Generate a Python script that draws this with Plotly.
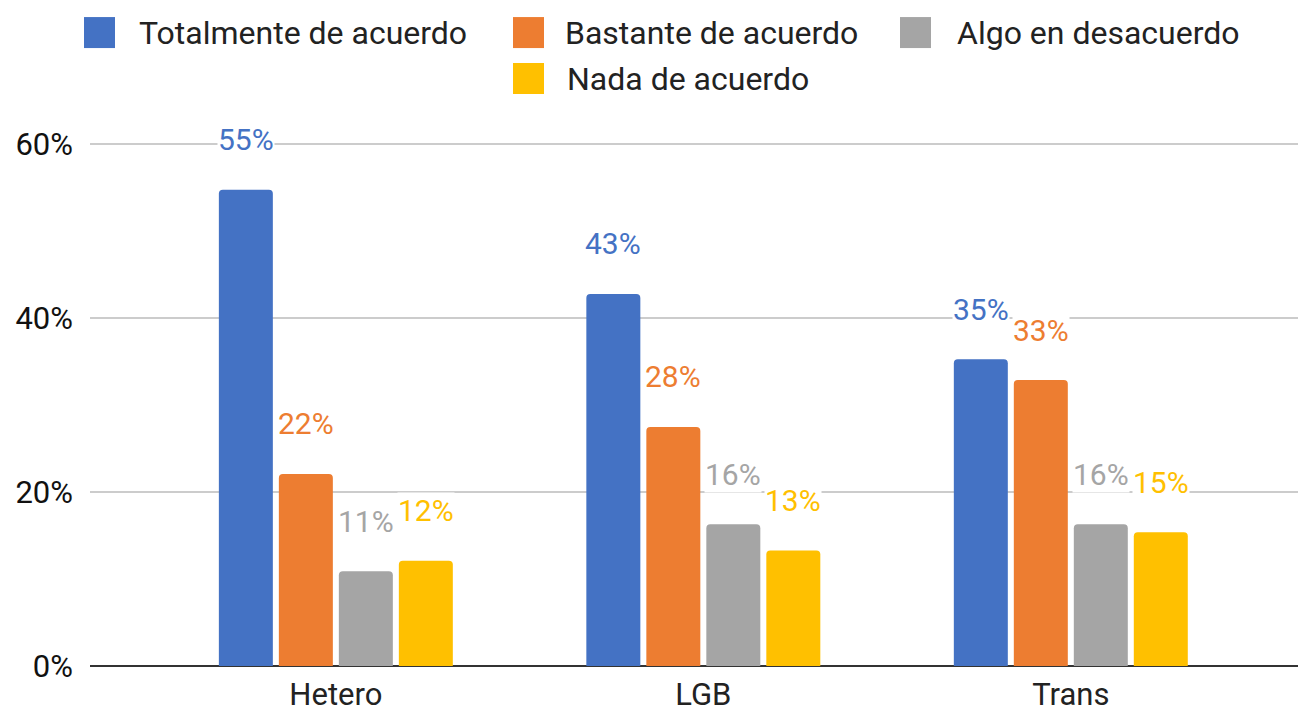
import plotly.graph_objects as go

categories = ["Hetero", "LGB", "Trans"]
series_names = ["Totalmente de acuerdo", "Bastante de acuerdo", "Algo en desacuerdo", "Nada de acuerdo"]
totalmente = [0.548, 0.428, 0.353]
bastante = [0.221, 0.275, 0.329]
algo = [0.109, 0.163, 0.163]
nada = [0.121, 0.133, 0.154]
label_text = [["55%", "43%", "35%"], ["22%", "28%", "33%"], ["11%", "16%", "16%"], ["12%", "13%", "15%"]]
y_ticks = [0, 0.2, 0.4, 0.6]
y_tick_labels = ["0%", "20%", "40%", "60%"]

values = [totalmente, bastante, algo, nada]
colors = ["#4472C4", "#ED7D31", "#A5A5A5", "#FFC000"]

OFF = 8  # page body margin
W, H = 1306 - OFF, 710 - OFF
L, R, T, B = 90 - OFF, 0, 100.5 - OFF, 44
FONT = "Roboto, Arial, sans-serif"

def px(x):
    return (x - OFF - L) / (W - L - R)

def py(y):
    return (H - B - (y - OFF)) / (H - T - B)

fig = go.Figure()
for name, vals, col in zip(series_names, values, colors):
    fig.add_trace(go.Bar(x=categories, y=vals, name=name, marker=dict(color=col, line=dict(width=0)),
                         showlegend=False, hoverinfo="x+y"))

annotations = []
for i, (vals, col, labs) in enumerate(zip(values, colors, label_text)):
    for c, v, t in zip(categories, vals, labs):
        annotations.append(dict(x=c, y=v, text=t, xref="x", yref="y", showarrow=False,
                                xshift=(i - 1.5) * 60, yshift=50, yanchor="middle", xanchor="center",
                                bgcolor="white", borderpad=0,
                                font=dict(family=FONT, size=30, color=col)))

# custom legend
legend_items = [
    (0, 84, 32, 137),
    (1, 513, 32, 563),
    (2, 900, 32, 955),
    (3, 513, 78, 565),
]
shapes = []
for idx, sx, cy, tx in legend_items:
    shapes.append(dict(type="rect", xref="paper", yref="paper", xsizemode="pixel", ysizemode="pixel",
                       xanchor=px(sx), yanchor=py(cy), x0=0, x1=31, y0=-15.5, y1=15.5,
                       fillcolor=colors[idx], line=dict(width=0)))
    annotations.append(dict(x=px(tx), y=py(cy), xref="paper", yref="paper", text=series_names[idx],
                            showarrow=False, xanchor="left", yanchor="middle",
                            font=dict(family=FONT, size=32, color="#222222")))

fig.update_layout(
    width=W, height=H,
    margin=dict(l=L, r=R, t=T, b=B, pad=0, autoexpand=False),
    paper_bgcolor="white", plot_bgcolor="white",
    barmode="group", bargap=0.347, bargroupgap=0.1, barcornerradius=4,
    showlegend=False,
    font=dict(family=FONT, size=31, color="#222222"),
    annotations=annotations, shapes=shapes,
    xaxis=dict(range=[-0.669, 2.64], showgrid=False, showline=False, ticks="", automargin=False,
               ticklabelstandoff=7, tickfont=dict(size=31, color="#222222")),
    yaxis=dict(range=[0, 0.65], tickvals=y_ticks, ticktext=y_tick_labels, automargin=False,
               gridcolor="#cccccc", gridwidth=2, zeroline=True, zerolinecolor="#333333",
               zerolinewidth=2, showline=False, ticks="", ticklabelstandoff=16,
               tickfont=dict(size=31, color="#111111")),
)

fig.write_html("out.html")
